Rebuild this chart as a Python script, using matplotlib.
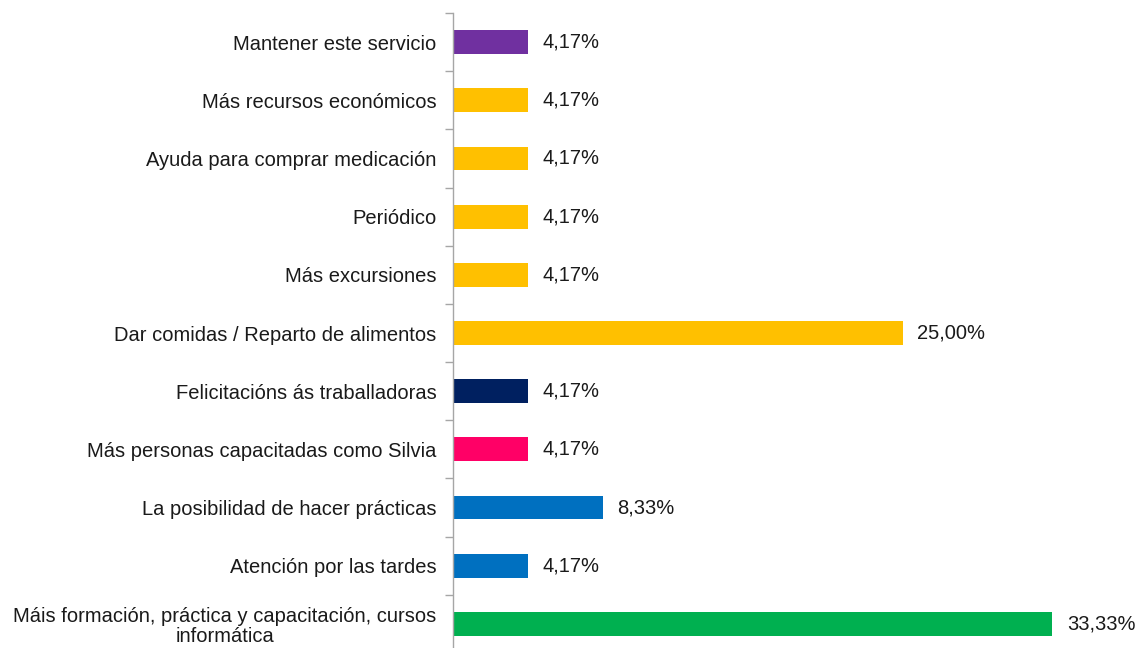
import matplotlib
matplotlib.use("Agg")
import matplotlib.pyplot as plt
import numpy as np

categories = [
    "Máis formación, práctica y capacitación, cursos\ninformática",
    "Atención por las tardes",
    "La posibilidad de hacer prácticas",
    "Más personas capacitadas como Silvia",
    "Felicitacións ás traballadoras",
    "Dar comidas / Reparto de alimentos",
    "Más excursiones",
    "Periódico",
    "Ayuda para comprar medicación",
    "Más recursos económicos",
    "Mantener este servicio",
]
values = [33.33, 4.17, 8.33, 4.17, 4.17, 25.00, 4.17, 4.17, 4.17, 4.17, 4.17]
colors = ["#00B050", "#0070C0", "#0070C0", "#FF0066", "#002060",
          "#FFC000", "#FFC000", "#FFC000", "#FFC000", "#FFC000", "#7030A0"]
labels = [f"{v:.2f}%".replace(".", ",") for v in values]

plt.rcParams['font.family'] = ['Liberation Sans', 'DejaVu Sans']
fig = plt.figure(figsize=(11.4, 6.48), dpi=100)
ax = fig.add_axes([453/1140, -5/648, 1 - 453/1140, (648 - 13 + 5)/648])

y = np.arange(len(categories))
ax.barh(y, values, height=0.41, color=colors)
ax.set_ylim(-0.5, len(categories) - 0.5)
ax.set_xlim(0, 38.2)

for yi, v, lab in zip(y, values, labels):
    ax.text(v + 0.8, yi, lab, va="center", ha="left", fontsize=14.5, color="#1a1a1a")

ax.set_yticks(y)
ax.set_yticklabels(categories, fontsize=14.5, color="#1a1a1a",
                   multialignment="center", linespacing=1.05)
ax.tick_params(axis="y", which="major", length=0, pad=12)
ax.set_yticks(np.arange(-0.5, len(categories), 1), minor=True)
ax.tick_params(axis="y", which="minor", length=6, color="#A6A6A6", width=1)
ax.set_xticks([])
for s in ["top", "right", "bottom"]:
    ax.spines[s].set_visible(False)
ax.spines["left"].set_color("#A6A6A6")
ax.spines["left"].set_linewidth(1)

fig.savefig("out.png", dpi=100)
